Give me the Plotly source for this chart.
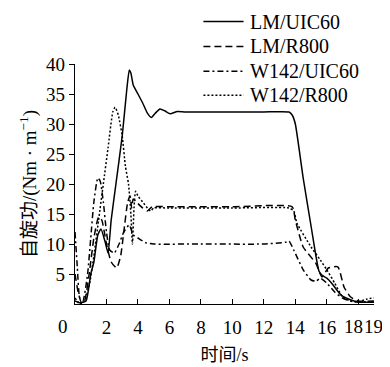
import plotly.graph_objects as go

# LM/UIC60 (solid)
lm_uic_x = [0, 0.3, 0.7, 1.0, 1.2, 1.45, 1.65, 1.9, 2.1, 2.3, 2.6, 3.0, 3.3, 3.45, 3.55, 3.7, 4.0, 4.3, 4.6, 4.85, 5.1, 5.4, 5.7, 6.05, 6.5, 7, 8, 10, 12, 13.6, 13.8, 14.0, 14.5, 15.0, 15.5, 15.7, 16.0, 16.3, 16.9, 17.5, 18, 19]
lm_uic_y = [0.5, 0.2, 0.5, 5, 7, 11.5, 12.5, 10.5, 8.5, 14, 20, 28, 36, 39, 38.5, 36.5, 35, 33.5, 31.8, 31.1, 31.8, 32.5, 32.2, 31.7, 32.1, 32, 32, 32, 32, 32, 31.5, 30, 21, 13, 5.5, 4.8, 4.3, 3.5, 1.5, 0.7, 0.3, 0.3]

# LM/R800 (dashed)
lm_r_x = [0, 0.2, 0.4, 0.6, 0.9, 1.2, 1.5, 1.7, 2.0, 2.3, 2.65, 2.9, 3.1, 3.35, 3.5, 3.6, 3.7, 3.9, 4.3, 4.6, 4.9, 6, 10, 13.8, 14.0, 14.5, 15.3, 15.7, 16.1, 16.7, 17.1, 17.5, 18, 19]
lm_r_y = [5, 2, 0.3, 0.5, 5, 11, 14.5, 14, 10, 7, 6, 8, 12, 17, 18, 16, 17.5, 17, 16, 15.5, 16.2, 16.2, 16.2, 16.2, 14, 9.5, 6.8, 4.5, 6, 6.2, 2.8, 1.2, 0.5, 0.5]

# W142/UIC60 (dash-dot)
w_uic_x = [0, 0.15, 0.3, 0.5, 0.8, 1.0, 1.2, 1.45, 1.6, 1.8, 2.0, 2.2, 2.5, 2.8, 3.1, 3.45, 3.7, 4.0, 4.5, 5, 8, 12, 13.4, 13.6, 13.9, 14.5, 15.0, 15.3, 15.6, 16.0, 16.5, 17.0, 17.5, 19]
w_uic_y = [12, 6, 1, 0.5, 5, 11, 17, 21, 20.5, 17, 12, 9, 8.5, 10, 12, 13.2, 11.5, 11, 10.2, 10, 10, 10, 10.3, 10.5, 9, 5.7, 4, 3.8, 4.3, 3.5, 2, 1, 0.5, 0.3]

# W142/R800 (dotted)
w_r_x = [0, 0.3, 0.6, 0.9, 1.2, 1.5, 1.8, 2.1, 2.4, 2.55, 2.75, 3.0, 3.2, 3.4, 3.55, 3.65, 3.75, 3.85, 4.0, 4.3, 4.6, 4.8, 5.0, 6, 10, 13.6, 13.9, 14.1, 15.0, 15.6, 16.0, 16.5, 17.0, 17.5, 18, 18.5, 19]
w_r_y = [1, 0, 0.5, 3, 8, 14, 20, 26, 32, 32.8, 31.5, 28, 23, 20, 15, 10, 16, 18.8, 18, 17, 16, 15.5, 16, 16, 16, 16, 15.5, 13.5, 9.5, 7.3, 5.7, 3.5, 1.2, 0.5, 0.3, 0.8, 1]

series_names = ["LM/UIC60", "LM/R800", "W142/UIC60", "W142/R800"]
x_ticks = [2, 4, 6, 8, 10, 12, 14, 16]
x_ticks_crowded = [18, 19]
y_ticks = [5, 10, 15, 20, 25, 30, 35, 40]

FONT = "Liberation Serif, Times New Roman, Noto Sans CJK SC, serif"

dashes = ["solid", "7px,4px", "6px,3px,2px,3px", "2px,2px"]
data = [(lm_uic_x, lm_uic_y), (lm_r_x, lm_r_y), (w_uic_x, w_uic_y), (w_r_x, w_r_y)]

fig = go.Figure()
for (xs, ys), name, d in zip(data, series_names, dashes):
    fig.add_trace(go.Scatter(
        x=xs, y=ys, mode="lines", name=name, showlegend=False,
        line=dict(color="black", width=1.5, dash=d, shape="spline", smoothing=0.5),
    ))

# page body has an 8px default margin, so the figure is 8px smaller than the window
fig.update_layout(
    width=382, height=359,
    margin=dict(l=67, r=16, t=56, b=63, autoexpand=False),
    paper_bgcolor="white", plot_bgcolor="white",
    font=dict(family=FONT, color="black", size=19),
    showlegend=False,
    xaxis=dict(
        range=[0, 19], tickvals=x_ticks, ticktext=[str(v) for v in x_ticks],
        ticks="inside", ticklen=5, tickcolor="black", showline=True, linecolor="black",
        linewidth=1.2, showgrid=False, zeroline=False, tickfont=dict(size=19),
        tickangle=0, automargin=False, ticklabelstandoff=6,
        minor=dict(tickvals=x_ticks_crowded, ticks="inside", ticklen=5, tickcolor="black", showgrid=False),
        title=dict(text="时间/s", font=dict(size=18), standoff=11),
    ),
    yaxis=dict(
        range=[0, 40], tickvals=y_ticks, ticktext=[str(v) for v in y_ticks],
        ticks="outside", ticklen=5, tickcolor="black", showline=True, linecolor="black",
        linewidth=1.2, showgrid=False, zeroline=False, tickfont=dict(size=19),
        automargin=False,
        title=dict(text="自旋功/(Nm · m<sup>−1</sup>)", font=dict(size=19), standoff=4),
    ),
)

# origin label and the crowded 18 / 19 labels
for val, txt, dx in [(0, "0", -12), (18, "18", -5), (19, "19", -1)]:
    fig.add_annotation(
        x=val, y=0, xref="x", yref="y", text=txt, showarrow=False,
        xshift=dx, yshift=-22, font=dict(size=19, family=FONT),
    )

# legend drawn in paper coordinates (top-right, above the plot)
leg_y = [1.177, 1.073, 0.97, 0.87]
for name, d, ly in zip(series_names, dashes, leg_y):
    fig.add_shape(
        type="line", xref="paper", yref="paper",
        x0=0.4295, x1=0.5638, y0=ly, y1=ly,
        line=dict(color="black", width=1.5, dash=d),
    )
    fig.add_annotation(
        x=0.58, y=ly, xref="paper", yref="paper", text=name, showarrow=False,
        xanchor="left", yanchor="middle", font=dict(size=20, family=FONT),
    )

fig.write_html("out.html")
